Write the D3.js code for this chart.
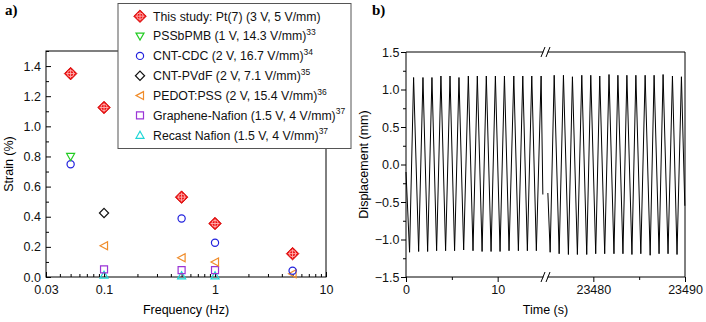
<!DOCTYPE html>
<html>
<head>
<meta charset="utf-8">
<script src="https://cdn.jsdelivr.net/npm/d3@7"></script>
<style>
body { margin: 0; background: #fff; }
svg { display: block; font-family: "Liberation Sans", Arial, sans-serif; }
</style>
</head>
<body>
<div id="chart"></div>
<script>
// ---- panel a: strain vs frequency ----
var legendNames = ["This study: Pt(7) (3 V, 5 V/mm)", "PSSbPMB (1 V, 14.3 V/mm)", "CNT-CDC (2 V, 16.7 V/mm)",
    "CNT-PVdF (2 V, 7.1 V/mm)", "PEDOT:PSS (2 V, 15.4 V/mm)", "Graphene-Nafion (1.5 V, 4 V/mm)", "Recast Nafion (1.5 V, 4 V/mm)"];
var legendRefs = ["", "33", "34", "35", "36", "37", "37"];

var thisFreq = [0.05, 0.1, 0.5, 1, 5],     thisStrain = [1.35, 1.125, 0.53, 0.355, 0.155];
var pssFreq = [0.05],                      pssStrain = [0.80];
var cdcFreq = [0.05, 0.5, 1, 5],           cdcStrain = [0.748, 0.388, 0.227, 0.042];
var pvdfFreq = [0.1],                      pvdfStrain = [0.425];
var pedotFreq = [0.1, 0.5, 1, 5],          pedotStrain = [0.207, 0.128, 0.099, 0.022];
var grapheneFreq = [0.1, 0.5, 1],          grapheneStrain = [0.05, 0.046, 0.046];
var recastFreq = [0.1, 0.5, 1],            recastStrain = [0.012, 0.008, 0.008];

var freqTicks = [0.03, 0.1, 1, 10], freqTickLabels = ["0.03", "0.1", "1", "10"];
var strainTicks = [0, 0.2, 0.4, 0.6, 0.8, 1.0, 1.2, 1.4];

// ---- panel b: displacement vs time (vertices of the trace) ----
var waveT1 = [0.00, 0.39, 0.83, 1.38, 1.85, 2.36, 2.83, 3.34, 3.81, 4.32, 4.80, 5.30, 5.78, 6.29, 6.80, 7.31,
    7.78, 8.30, 8.76, 9.28, 9.75, 10.26, 10.74, 11.24, 11.76, 12.26, 12.74, 13.24, 13.72, 14.22, 14.74, 14.93];
var waveV1 = [-0.10, -1.17, 1.16, -1.16, 1.16, -1.16, 1.16, -1.15, 1.18, -1.15, 1.18, -1.15, 1.16, -1.14, 1.18, -1.15,
    1.18, -1.16, 1.18, -1.16, 1.18, -1.16, 1.18, -1.15, 1.18, -1.15, 1.18, -1.15, 1.18, -1.15, 1.18, -0.40];
var waveT2 = [23475.04, 23475.29, 23475.73, 23476.27, 23476.74, 23477.28, 23477.72, 23478.26, 23478.74, 23479.28,
    23479.72, 23480.26, 23480.70, 23481.24, 23481.71, 23482.25, 23482.68, 23483.23, 23483.66, 23484.21, 23484.64,
    23485.18, 23485.65, 23486.20, 23486.63, 23487.17, 23487.61, 23488.15, 23488.63, 23489.13, 23489.61, 23489.98];
var waveV2 = [-0.38, -1.17, 1.19, -1.19, 1.19, -1.20, 1.17, -1.20, 1.19, -1.20, 1.19, -1.19, 1.18, -1.19, 1.20, -1.19,
    1.19, -1.19, 1.19, -1.20, 1.19, -1.19, 1.19, -1.21, 1.19, -1.19, 1.20, -1.19, 1.18, -1.20, 1.17, -0.55];

var timeTicks1 = [0, 10], timeTicks2 = [23480, 23490];
var timeMinor1 = [5], timeMinor2 = [23485];
var dispTicks = [-1.5, -1.0, -0.5, 0.0, 0.5, 1.0, 1.5];
var dispMinor = [-1.25, -0.75, -0.25, 0.25, 0.75, 1.25];

var fontSize = "12.5px";

var svg = d3.select("#chart")
    .append("svg")
        .attr("width", 706)
        .attr("height", 322);

// =============== panel a ===============
var pa = {left: 46, top: 51, width: 280, height: 226};
var ga = svg.append("g").attr("transform", "translate(" + pa.left + "," + pa.top + ")");

var x = d3.scaleLog().domain([0.03, 10]).range([0, pa.width]);
var y = d3.scaleLinear().domain([0, 1.5]).range([pa.height, 0]);

var xMinor = [];
[0.01, 0.1, 1].forEach(function(dec) {
    for (var k = 2; k <= 9; k++) { if (k * dec > 0.03 && k * dec < 10) xMinor.push(k * dec); }
});
var yMinor = [0.1, 0.3, 0.5, 0.7, 0.9, 1.1, 1.3, 1.5];

ga.append("g")
    .attr("class", "axis")
    .attr("transform", "translate(0," + pa.height + ")")
    .call(d3.axisBottom(x).tickValues(xMinor).tickSize(-3).tickFormat(""));
ga.append("g")
    .attr("class", "axis")
    .attr("transform", "translate(0," + pa.height + ")")
    .call(d3.axisBottom(x).tickValues(freqTicks).tickSize(-5).tickPadding(8)
        .tickFormat(function(d, i) { return freqTickLabels[i]; }));
ga.append("g")
    .attr("class", "axis")
    .call(d3.axisLeft(y).tickValues(yMinor).tickSize(-3).tickFormat(""));
ga.append("g")
    .attr("class", "axis")
    .call(d3.axisLeft(y).tickValues(strainTicks).tickSize(-5).tickPadding(5).tickFormat(d3.format(".1f")));

ga.append("rect")
    .attr("width", pa.width).attr("height", pa.height)
    .attr("fill", "none").attr("stroke", "#000").attr("stroke-width", 1);

// marker shapes
function markerPath(kind) {
    if (kind === "diamond") return "M0,-4.6L4.6,0L0,4.6L-4.6,0Z";
    if (kind === "down") return "M-4,-3L4,-3L0,4Z";
    if (kind === "up") return "M-4,3L4,3L0,-4Z";
    if (kind === "left") return "M-4,0L3.5,-4L3.5,4Z";
    if (kind === "square") return "M-3.5,-3.5L3.5,-3.5L3.5,3.5L-3.5,3.5Z";
    return null;
}

var series = [
    {name: 0, kind: "study",   color: "#ee1111", f: thisFreq,     s: thisStrain},
    {name: 1, kind: "down",    color: "#22cc22", f: pssFreq,      s: pssStrain},
    {name: 2, kind: "circle",  color: "#2222dd", f: cdcFreq,      s: cdcStrain},
    {name: 3, kind: "diamond", color: "#111111", f: pvdfFreq,     s: pvdfStrain},
    {name: 4, kind: "left",    color: "#f08c2a", f: pedotFreq,    s: pedotStrain},
    {name: 5, kind: "square",  color: "#9b35d6", f: grapheneFreq, s: grapheneStrain},
    {name: 6, kind: "up",      color: "#1fd6d6", f: recastFreq,   s: recastStrain}
];

function drawMarker(g, kind, color) {
    if (kind === "study") {
        g.append("path").attr("d", "M0,-6.3L6.3,0L0,6.3L-6.3,0Z").attr("fill", color).attr("stroke", "#d00000").attr("stroke-width", 0.8);
        g.append("circle").attr("r", 3.2).attr("fill", "none").attr("stroke", "#ffb3b3").attr("stroke-width", 0.9);
        g.append("path").attr("d", "M-4.5,0L4.5,0M0,-4.5L0,4.5").attr("stroke", "#ffb3b3").attr("stroke-width", 0.9);
    } else if (kind === "circle") {
        g.append("circle").attr("r", 3.6).attr("fill", "none").attr("stroke", color).attr("stroke-width", 1.2);
    } else {
        g.append("path").attr("d", markerPath(kind)).attr("fill", "none").attr("stroke", color).attr("stroke-width", 1.2);
    }
}

// draw in reverse so "This study" sits on top
series.slice().reverse().forEach(function(sr) {
    var pts = sr.f.map(function(d, i) { return [d, sr.s[i]]; });
    ga.selectAll(".pt" + sr.name)
        .data(pts)
      .enter().append("g")
        .attr("transform", function(d) { return "translate(" + x(d[0]) + "," + y(d[1]) + ")"; })
        .each(function() { drawMarker(d3.select(this), sr.kind, sr.color); });
});

// legend
var lg = svg.append("g").attr("transform", "translate(118,3.5)");
lg.append("rect")
    .attr("width", 233).attr("height", 145)
    .attr("fill", "#fff").attr("stroke", "#555").attr("stroke-width", 1);
series.forEach(function(sr, i) {
    var row = lg.append("g").attr("transform", "translate(0," + (12.7 + i * 19.85) + ")");
    drawMarker(row.append("g").attr("transform", "translate(22,0)"), sr.kind, sr.color);
    var t = row.append("text")
        .attr("x", 35).attr("y", 4.4)
        .style("font-size", "12.3px").attr("fill", "#111")
        .text(legendNames[i]);
    if (legendRefs[i]) {
        t.append("tspan").attr("dy", -5.5).style("font-size", "8.5px").text(legendRefs[i]);
    }
});

ga.append("text")
    .attr("x", pa.width / 2).attr("y", 262.5)
    .attr("text-anchor", "middle").style("font-size", fontSize)
    .text("Frequency (Hz)");
svg.append("text")
    .attr("transform", "translate(12.5," + (pa.top + pa.height / 2) + ") rotate(-90)")
    .attr("text-anchor", "middle").style("font-size", fontSize)
    .text("Strain (%)");
svg.append("text")
    .attr("x", 5).attr("y", 15)
    .style("font-family", "'Liberation Serif', 'Times New Roman', serif")
    .style("font-weight", "bold").style("font-size", "15px")
    .text("a)");

// =============== panel b ===============
var pb = {left: 406, top: 52, width: 279, height: 225};
var gb = svg.append("g").attr("transform", "translate(" + pb.left + "," + pb.top + ")");

var x1 = d3.scaleLinear().domain([0, 15]).range([0, 137.5]);
var x2 = d3.scaleLinear().domain([23475, 23490]).range([141.5, pb.width]);
var yb = d3.scaleLinear().domain([-1.5, 1.5]).range([pb.height, 0]);

gb.append("g").attr("class", "axis")
    .call(d3.axisLeft(yb).tickValues(dispMinor).tickSize(3).tickFormat(""));
gb.append("g").attr("class", "axis")
    .call(d3.axisLeft(yb).tickValues(dispTicks).tickSize(5).tickPadding(1.5).tickFormat(d3.format(".1f")));

[[x1, timeTicks1, timeMinor1], [x2, timeTicks2, timeMinor2]].forEach(function(a) {
    gb.append("g").attr("class", "axis")
        .attr("transform", "translate(0," + pb.height + ")")
        .call(d3.axisBottom(a[0]).tickValues(a[2]).tickSize(3).tickFormat(""));
    gb.append("g").attr("class", "axis")
        .attr("transform", "translate(0," + pb.height + ")")
        .call(d3.axisBottom(a[0]).tickValues(a[1]).tickSize(5).tickPadding(3).tickFormat(d3.format("d")));
});

// frame with a break in top and bottom lines
var bx1 = x1.range()[1], bx2 = x2.range()[0];
gb.append("path")
    .attr("d", "M" + bx1 + ",0H0V" + pb.height + "H" + bx1 +
               "M" + bx2 + ",0H" + pb.width + "V" + pb.height + "H" + bx2)
    .attr("fill", "none").attr("stroke", "#000").attr("stroke-width", 1);
[0, pb.height].forEach(function(yy) {
    gb.append("path")
        .attr("d", "M" + (bx1 - 2.5) + "," + (yy + 5) + "L" + (bx1 + 1.5) + "," + (yy - 5) +
                   "M" + (bx2 - 1.5) + "," + (yy + 5) + "L" + (bx2 + 2.5) + "," + (yy - 5))
        .attr("fill", "none").attr("stroke", "#000").attr("stroke-width", 1);
});

var line1 = d3.line().x(function(d) { return x1(d[0]); }).y(function(d) { return yb(d[1]); });
var line2 = d3.line().x(function(d) { return x2(d[0]); }).y(function(d) { return yb(d[1]); });

gb.append("path")
    .datum(waveT1.map(function(d, i) { return [d, waveV1[i]]; }))
    .attr("d", line1)
    .attr("fill", "none").attr("stroke", "#000").attr("stroke-width", 1);
gb.append("path")
    .datum(waveT2.map(function(d, i) { return [d, waveV2[i]]; }))
    .attr("d", line2)
    .attr("fill", "none").attr("stroke", "#000").attr("stroke-width", 1);

gb.append("text")
    .attr("x", (bx1 + bx2) / 2).attr("y", 262)
    .attr("text-anchor", "middle").style("font-size", fontSize)
    .text("Time (s)");
svg.append("text")
    .attr("transform", "translate(367.5," + (pb.top + pb.height / 2) + ") rotate(-90)")
    .attr("text-anchor", "middle").style("font-size", fontSize)
    .text("Displacement (mm)");
svg.append("text")
    .attr("x", 372).attr("y", 15)
    .style("font-family", "'Liberation Serif', 'Times New Roman', serif")
    .style("font-weight", "bold").style("font-size", "15px")
    .text("b)");

// axis styling
svg.selectAll(".axis .domain").remove();
svg.selectAll(".axis line").attr("stroke", "#000");
svg.selectAll(".axis text").style("font-size", fontSize).style("font-family", "'Liberation Sans', Arial, sans-serif").attr("fill", "#111");
</script>
</body>
</html>
